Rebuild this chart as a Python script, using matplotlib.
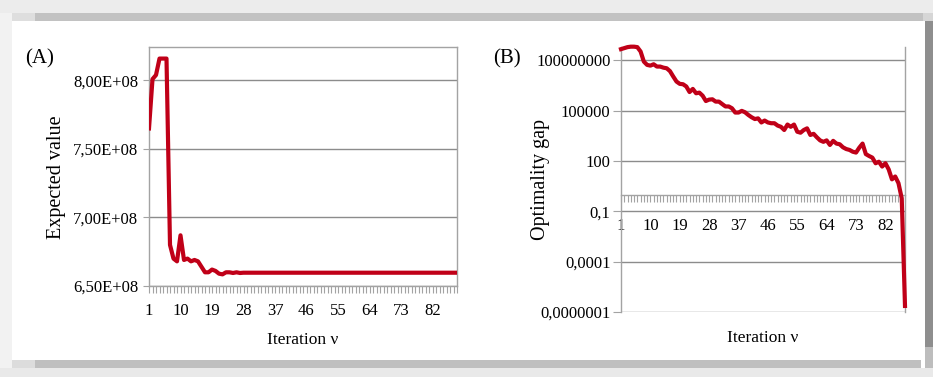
import numpy as np
import matplotlib
matplotlib.use("Agg")
import matplotlib.pyplot as plt
from matplotlib.patches import Rectangle

plt.rcParams['font.family'] = ['Liberation Serif', 'DejaVu Serif']

# panel A: expected value per iteration
iter_a = np.arange(1, 90)
expected_value = [
    7.65e8, 8.01e8, 8.04e8, 8.16e8, 8.16e8, 8.16e8, 6.80e8, 6.70e8, 6.68e8, 6.87e8,
    6.69e8, 6.70e8, 6.68e8, 6.69e8, 6.68e8, 6.64e8, 6.60e8, 6.60e8, 6.62e8, 6.61e8,
    6.59e8, 6.585e8, 6.60e8, 6.60e8, 6.595e8, 6.60e8, 6.595e8, 6.597e8, 6.597e8, 6.597e8,
    6.597e8, 6.597e8, 6.597e8, 6.597e8, 6.597e8, 6.597e8, 6.597e8, 6.597e8, 6.597e8, 6.597e8,
    6.597e8, 6.597e8, 6.597e8, 6.597e8, 6.597e8, 6.597e8, 6.597e8, 6.597e8, 6.597e8, 6.597e8,
    6.597e8, 6.597e8, 6.597e8, 6.597e8, 6.597e8, 6.597e8, 6.597e8, 6.597e8, 6.597e8, 6.597e8,
    6.597e8, 6.597e8, 6.597e8, 6.597e8, 6.597e8, 6.597e8, 6.597e8, 6.597e8, 6.597e8, 6.597e8,
    6.597e8, 6.597e8, 6.597e8, 6.597e8, 6.597e8, 6.597e8, 6.597e8, 6.597e8, 6.597e8, 6.597e8,
    6.597e8, 6.597e8, 6.597e8, 6.597e8, 6.597e8, 6.597e8, 6.597e8, 6.597e8, 6.597e8,
]
yticks_a = [6.5e8, 7.0e8, 7.5e8, 8.0e8]
ylabels_a = ['6,50E+08', '7,00E+08', '7,50E+08', '8,00E+08']

# panel B: optimality gap per iteration (log scale)
iter_b = np.arange(1, 89)
optimality_gap = [
    4.7e8, 5.4e8, 6.2e8, 6.6e8, 6.6e8, 6.2e8, 3.4e8, 8.5e7, 5.4e7, 4.9e7,
    5.9e7, 4.3e7, 4.3e7, 3.7e7, 3.4e7, 2.3e7, 1.1e7, 5.5e6, 4.0e6, 3.8e6,
    2.8e6, 1.3e6, 2.0e6, 1.1e6, 1.2e6, 7.9e5, 3.8e5, 4.6e5, 4.8e5, 3.5e5,
    3.5e5, 2.5e5, 1.8e5, 1.8e5, 1.4e5, 7.8e4, 7.8e4, 9.8e4, 8.1e4, 5.6e4,
    4.1e4, 3.2e4, 3.5e4, 2.0e4, 2.6e4, 2.0e4, 1.8e4, 1.8e4, 1.3e4, 1.1e4,
    7.1e3, 1.5e4, 1.1e4, 1.5e4, 5.6e3, 4.9e3, 7.1e3, 8.9e3, 3.6e3, 4.2e3,
    2.6e3, 1.7e3, 1.4e3, 1.7e3, 910, 1.6e3, 1.1e3, 1.0e3, 660, 520,
    460, 360, 320, 630, 1.1e3, 260, 200, 160, 74, 91,
    47, 74, 32, 8.1, 12, 4.8, 0.6, 2.3e-7,
]
yticks_b = [1e-7, 1e-4, 1e-1, 1e2, 1e5, 1e8]
ylabels_b = ['0,0000001', '0,0001', '0,1', '100', '100000', '100000000']

xlabel_step = 9
line_color = '#c00018'
grid_color = '#8c8c8c'
spine_color = '#a3a3a3'

W, H = 933, 377
fig = plt.figure(figsize=(W / 100, H / 100), dpi=100)
fig.patch.set_facecolor('white')


def frac(x0, y0, x1, y1):
    # pixel box (top-left origin) -> figure fraction rect
    return (x0 / W, 1 - y1 / H, (x1 - x0) / W, (y1 - y0) / H)


def band(x0, y0, x1, y1, color):
    l, b, w, h = frac(x0, y0, x1, y1)
    fig.patches.append(Rectangle((l, b), w, h, transform=fig.transFigure,
                                 facecolor=color, edgecolor='none', zorder=0))


# shadowed frame around the figure
band(0, 0, W, 13, '#ececec')
band(0, 13, 12, 368, '#f2f2f2')
band(12, 13, 35, 21, '#dedede')
band(35, 13, 923, 21, '#c2c2c2')
band(923, 13, W, 21, '#d6d6d6')
band(925, 21, W, 347, '#8e8e8e')
band(925, 347, W, 368, '#bdbdbd')
band(12, 360, 35, 368, '#dcdcdc')
band(35, 360, 921, 368, '#bfbfbf')
band(0, 368, W, H, '#e9e9e9')


def xtick_labels(iters):
    return [str(i) if (i - 1) % xlabel_step == 0 else '' for i in iters]


# ---- panel A ----
ax_a = fig.add_axes(frac(149, 47, 457, 286))
ax_a.plot(iter_a, expected_value, color=line_color, lw=3, solid_joinstyle='round', zorder=5)
ax_a.set_xlim(1, iter_a[-1])
ax_a.set_ylim(6.5e8, 8.2445e8)
ax_a.set_yticks(yticks_a, labels=ylabels_a)
ax_a.set_xticks(iter_a, labels=xtick_labels(iter_a))
ax_a.yaxis.grid(True, color=grid_color, lw=1)
ax_a.set_axisbelow(True)
for s in ax_a.spines.values():
    s.set_color(spine_color)
    s.set_linewidth(1)
ax_a.tick_params(axis='x', direction='out', length=5, width=0.8, color=spine_color,
                 pad=7, labelsize=12)
ax_a.tick_params(axis='y', direction='out', length=4.3, width=0.8, color=spine_color,
                 pad=3.5, labelsize=12)

# ---- panel B ----
ax_b = fig.add_axes(frac(621, 47, 905, 312))
ax_b.plot(iter_b, optimality_gap, color=line_color, lw=3, solid_joinstyle='round', zorder=5,
          clip_on=False)
ax_b.set_yscale('log')
ax_b.set_xlim(1, iter_b[-1])
ax_b.set_ylim(1e-7, 10 ** 8.8)
ax_b.set_yticks(yticks_b, labels=ylabels_b)
ax_b.yaxis.set_minor_locator(matplotlib.ticker.NullLocator())
ax_b.set_xticks(iter_b, labels=xtick_labels(iter_b))
ax_b.yaxis.grid(True, color=grid_color, lw=1)
ax_b.set_axisbelow(True)
ax_b.spines['top'].set_visible(False)
ax_b.spines['bottom'].set_position(('data', 1))
for s in ax_b.spines.values():
    s.set_color(spine_color)
    s.set_linewidth(1)
ax_b.tick_params(axis='x', direction='out', length=5, width=0.8, color=spine_color,
                 pad=12, labelsize=12)
ax_b.tick_params(axis='y', direction='out', length=5.5, width=0.8, color=spine_color,
                 pad=2, labelsize=12)

# panel letters and axis titles
fig.text(25 / W, 1 - 59 / H, '(A)', fontsize=15, ha='left', va='center')
fig.text(493 / W, 1 - 59 / H, '(B)', fontsize=15, ha='left', va='center')
fig.text(303 / W, 1 - 340 / H, 'Iteration ν', fontsize=12.5, ha='center', va='center')
fig.text(763 / W, 1 - 338 / H, 'Iteration ν', fontsize=12.5, ha='center', va='center')
fig.text(57 / W, 1 - 177 / H, 'Expected value', fontsize=14.5, rotation=90,
         ha='center', va='center')
fig.text(541 / W, 1 - 180 / H, 'Optimality gap', fontsize=14.5, rotation=90,
         ha='center', va='center')

fig.savefig('out.png', dpi=100)
